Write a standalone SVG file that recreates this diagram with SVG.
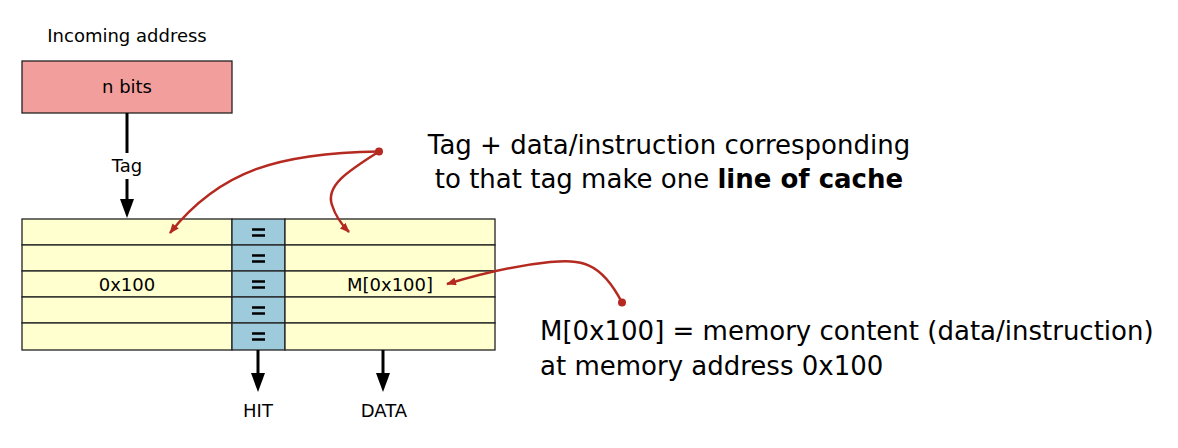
<svg xmlns="http://www.w3.org/2000/svg" width="1178" height="448" viewBox="0 0 1178 448">
<defs>
<style>
text{font-family:"DejaVu Sans",Verdana,sans-serif;fill:#000}
.s{font-size:18px}
.b{font-size:26px}
.cell{fill:#ffffd0;stroke:#222;stroke-width:1.3}
.eq{fill:#9ecbdc;stroke:#222;stroke-width:1.3}
.red{fill:none;stroke:#b52a20;stroke-width:2.5}
.blk{stroke:#000;stroke-width:3;fill:none}
</style>
<marker id="ah" markerWidth="10" markerHeight="8" refX="9" refY="4" orient="auto" markerUnits="userSpaceOnUse">
<path d="M0,0 L10,4 L0,8 z" fill="#b52a20"/>
</marker>
</defs>
<rect width="1178" height="448" fill="#fff"/>
<g id="addr">
<text class="s" x="127" y="42" text-anchor="middle">Incoming address</text>
<rect x="22" y="61" width="210" height="52" fill="#f29e9c" stroke="#222" stroke-width="1.3"/>
<text class="s" x="127" y="93" text-anchor="middle">n bits</text>
</g>
<g id="table">
<rect class="cell" x="22" y="219" width="210" height="26"/>
<rect class="cell" x="22" y="245" width="210" height="26"/>
<rect class="cell" x="22" y="271" width="210" height="26"/>
<rect class="cell" x="22" y="297" width="210" height="26"/>
<rect class="cell" x="22" y="323" width="210" height="27"/>
<rect class="eq" x="232" y="219" width="53" height="26"/>
<rect class="eq" x="232" y="245" width="53" height="26"/>
<rect class="eq" x="232" y="271" width="53" height="26"/>
<rect class="eq" x="232" y="297" width="53" height="26"/>
<rect class="eq" x="232" y="323" width="53" height="27"/>
<rect class="cell" x="285" y="219" width="210" height="26"/>
<rect class="cell" x="285" y="245" width="210" height="26"/>
<rect class="cell" x="285" y="271" width="210" height="26"/>
<rect class="cell" x="285" y="297" width="210" height="26"/>
<rect class="cell" x="285" y="323" width="210" height="27"/>
<g stroke="#000" stroke-width="2.6">
<path d="M252,229.5h13M252,235.5h13"/>
<path d="M252,255.5h13M252,261.5h13"/>
<path d="M252,281.5h13M252,287.5h13"/>
<path d="M252,307.5h13M252,313.5h13"/>
<path d="M252,333.5h13M252,339.5h13"/>
</g>
<text class="s" x="127" y="291" text-anchor="middle">0x100</text>
<text class="s" x="390" y="291" text-anchor="middle">M[0x100]</text>
</g>
<g id="connectors">
<path class="blk" d="M127,113V153"/>
<text class="s" x="127" y="172" text-anchor="middle">Tag</text>
<path class="blk" d="M127,179V200"/>
<path d="M120,199h14l-7,19z" fill="#000"/>
<path class="blk" d="M258,350V374"/>
<path d="M251,373h14l-7,19z" fill="#000"/>
<path class="blk" d="M383,350V374"/>
<path d="M376,373h14l-7,19z" fill="#000"/>
<circle cx="379" cy="151.5" r="4" fill="#b52a20"/>
<circle cx="622" cy="302.5" r="4" fill="#b52a20"/>
<path class="red" d="M379,151.5 C280,153 220,170 170,233" marker-end="url(#ah)"/>
<path class="red" d="M379,151.5 C350,170 325,185 332,205 C336,218 342,225 349,232" marker-end="url(#ah)"/>
<path class="red" d="M622,302.5 C600,260 580,260 550,262 C510,266 470,277 447,284" marker-end="url(#ah)"/>
</g>
<g id="labels">
<text class="s" x="258" y="417" text-anchor="middle">HIT</text>
<text class="s" x="384" y="417" text-anchor="middle">DATA</text>
<text class="b" x="669" y="154" text-anchor="middle">Tag + data/instruction corresponding</text>
<text class="b" x="669" y="188" text-anchor="middle">to that tag make one <tspan font-weight="bold">line of cache</tspan></text>
<text class="b" x="540" y="340">M[0x100] = memory content (data/instruction)</text>
<text class="b" x="540" y="375">at memory address 0x100</text>
</g>
</svg>
